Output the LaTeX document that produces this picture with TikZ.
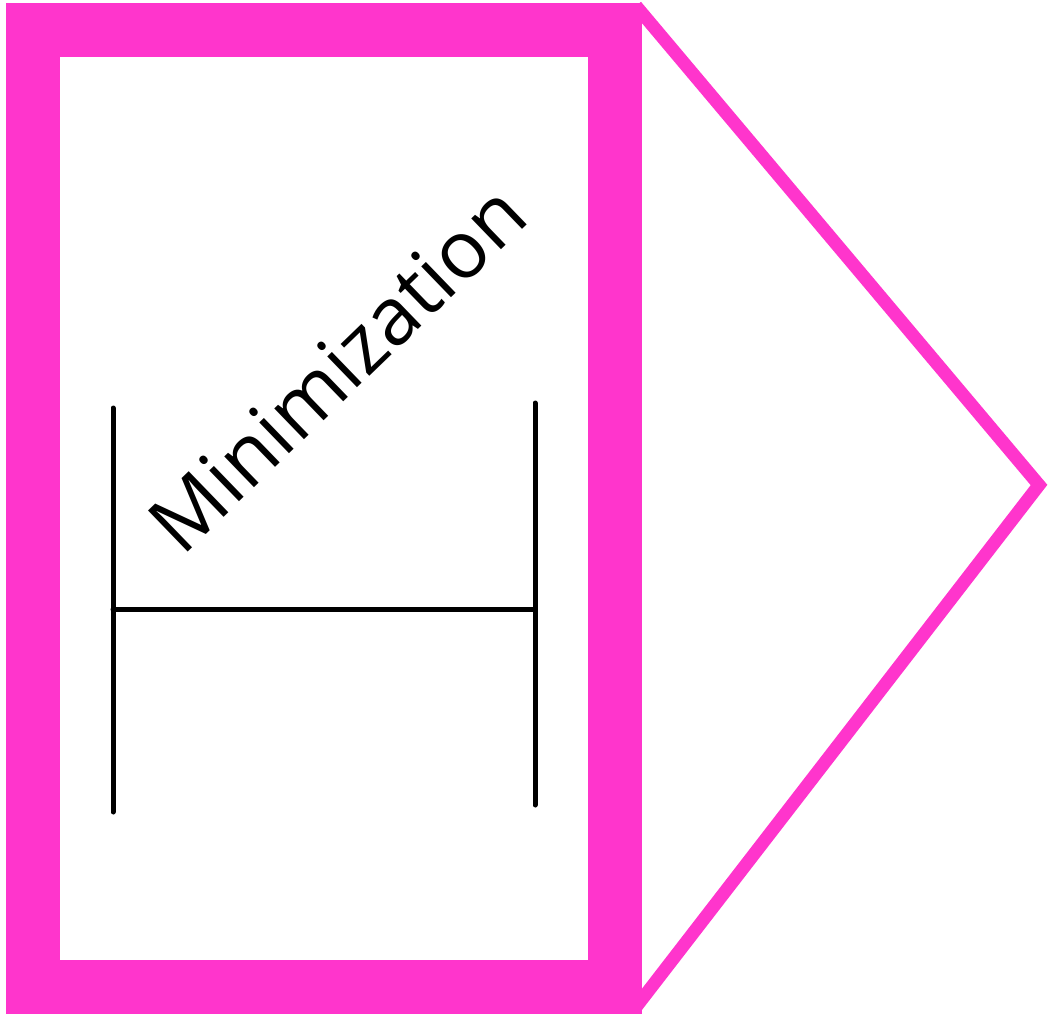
\documentclass[tikz,border=0pt]{standalone}
\usepackage{fontspec}
\setmainfont{Open Sans}
\usepackage{xcolor}
\usetikzlibrary{positioning, calc}
\definecolor{magentapink}{RGB}{255,53,204}

\begin{document}
\begin{tikzpicture}[
    x=1pt, y=-1pt,
    frame/.style={draw=magentapink, line width=54pt},
    pointer/.style={draw=magentapink, line width=13pt, line join=miter},
    bar/.style={draw=black, line width=5pt, line cap=round},
    label/.style={font=\fontsize{80}{96}\selectfont, inner sep=0pt, rotate=44}
]
    \useasboundingbox (0,0) rectangle (1048,1015);

    % Frame
    \draw[frame] (33,30) rectangle (615,987);

    % Pointer
    \coordinate (ptop) at (636,6);
    \coordinate (ptip) at (1039,485);
    \coordinate (pbot) at (636,1007);
    \draw[pointer] (ptop) -- (ptip) -- (pbot);

    % H shape
    \coordinate (lt) at (113,408);
    \coordinate (lb) at (113,812);
    \coordinate (rt) at (535,403);
    \coordinate (rb) at (535,805);
    \coordinate (lm) at (113,609);
    \coordinate (rm) at (535,609);
    \draw[bar] (lt) -- (lb);
    \draw[bar] (rt) -- (rb);
    \draw[bar] (lm) -- (rm);

    % Label
    \node[label] (minim) at (337,368) {Minimization};
\end{tikzpicture}
\end{document}
